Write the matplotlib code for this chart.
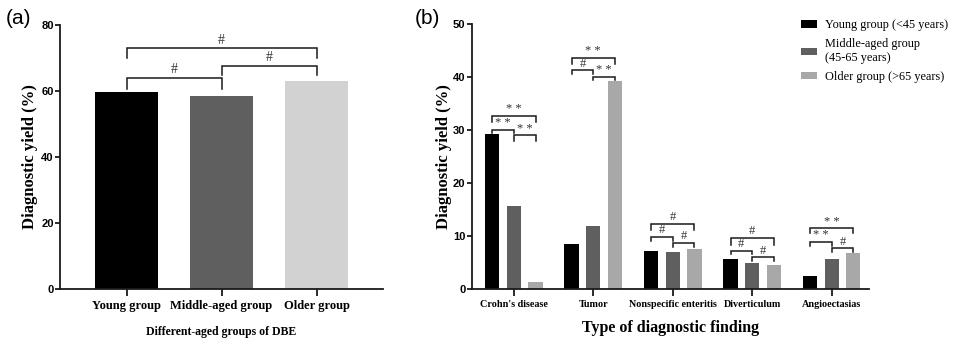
import matplotlib.pyplot as plt
from matplotlib.patches import Patch
import numpy as np

# Panel (a) data
groups_a = ["Young group", "Middle-aged group", "Older group"]
yield_a = [59.8, 58.4, 63.1]
colors_a = ["#000000", "#5f5f5f", "#d2d2d2"]
# (bar i, bar j, bracket top, tick drop, label)
brackets_a = [(0, 1, 64.0, 3.3, "#"), (1, 2, 67.7, 2.7, "#"), (0, 2, 73.0, 3.0, "#")]

# Panel (b) data
findings = ["Crohn's disease", "Tumor", "Nonspecific enteritis", "Diverticulum", "Angioectasias"]
young_b = [29.2, 8.4, 7.1, 5.55, 2.3]
middle_b = [15.6, 11.85, 6.9, 4.9, 5.6]
older_b = [1.2, 39.2, 7.5, 4.5, 6.7]
legend_b = ["Young group (<45 years)", "Middle-aged group\n(45-65 years)", "Older group (>65 years)"]
colors_b = ["#000000", "#5f5f5f", "#a8a8a8"]
brackets_b = [
    [(0, 1, 30.0, 0.6, "**"), (1, 2, 29.0, 1.0, "**"), (0, 2, 32.7, 1.2, "**")],
    [(0, 1, 41.3, 0.7, "#"), (1, 2, 40.1, 0.6, "**"), (0, 2, 43.7, 1.2, "**")],
    [(0, 1, 9.8, 0.8, "#"), (1, 2, 8.6, 0.8, "#"), (0, 2, 12.2, 1.1, "#")],
    [(0, 1, 7.2, 0.6, "#"), (1, 2, 5.9, 0.6, "#"), (0, 2, 9.6, 1.3, "#")],
    [(0, 1, 8.9, 0.8, "**"), (1, 2, 7.6, 0.7, "#"), (0, 2, 11.4, 0.9, "**")],
]

serif = "Liberation Serif"
sans = "Liberation Sans"
ink = "#1a1a1a"


def bracket(ax, x1, x2, top, drop, label, fs, pad):
    ax.plot([x1, x1, x2, x2], [top - drop, top, top, top - drop],
            color=ink, lw=1.1, solid_joinstyle="miter", clip_on=False)
    ax.text((x1 + x2) / 2, top + pad, label.replace("**", "* *"), ha="center", va="bottom",
            fontsize=fs, family=serif, color="#333333")


def style_axes(ax):
    for side in ["top", "right"]:
        ax.spines[side].set_visible(False)
    for side in ["left", "bottom"]:
        ax.spines[side].set_linewidth(1.3)
        ax.spines[side].set_color(ink)
    ax.tick_params(axis="both", width=1.3, length=3.5, color=ink)
    ax.tick_params(axis="y", labelsize=8, pad=1)
    for lab in ax.get_yticklabels():
        lab.set_family(sans)
        lab.set_fontweight("bold")


fig = plt.figure(figsize=(9.6, 3.38), dpi=100)

# ---- panel (a)
ax1 = fig.add_axes([0.0625, 0.146, 0.3365, 0.779])
xa = np.arange(len(groups_a))
ax1.bar(xa, yield_a, width=0.66, color=colors_a)
ax1.set_xlim(-0.7, 2.7)
ax1.set_ylim(0, 80)
ax1.set_yticks([0, 20, 40, 60, 80])
ax1.set_xticks(xa)
ax1.set_xticklabels(groups_a, family=serif, fontweight="bold", fontsize=9)
style_axes(ax1)
ax1.tick_params(axis="x", length=5, pad=3)
ax1.set_ylabel("Diagnostic yield (%)", family=serif, fontweight="bold", fontsize=12, labelpad=2)
ax1.set_xlabel("Different-aged groups of DBE", family=serif, fontweight="bold", fontsize=8.5, labelpad=10)
for i, j, top, drop, lab in brackets_a:
    bracket(ax1, xa[i], xa[j], top, drop, lab, 10, 0.5)

# ---- panel (b)
ax2 = fig.add_axes([0.4914, 0.146, 0.4138, 0.782])
xb = np.arange(len(findings))
step = 0.273
series_b = [young_b, middle_b, older_b]
for k, vals in enumerate(series_b):
    ax2.bar(xb + (k - 1) * step, vals, width=0.18, color=colors_b[k], label=legend_b[k])
ax2.set_xlim(-0.53, 4.47)
ax2.set_ylim(0, 50)
ax2.set_yticks([0, 10, 20, 30, 40, 50])
ax2.set_xticks(xb)
ax2.set_xticklabels(findings, family=serif, fontweight="bold", fontsize=7.3)
style_axes(ax2)
ax2.tick_params(axis="x", length=5, pad=3)
ax2.set_ylabel("Diagnostic yield (%)", family=serif, fontweight="bold", fontsize=12, labelpad=1)
ax2.set_xlabel("Type of diagnostic finding", family=serif, fontweight="bold", fontsize=11.5, labelpad=8)
for g, blist in enumerate(brackets_b):
    for i, j, top, drop, lab in blist:
        bracket(ax2, xb[g] + (i - 1) * step, xb[g] + (j - 1) * step, top, drop, lab, 9, 0.15)

handles = [Patch(facecolor=c, edgecolor="none") for c in colors_b]
fig.legend(handles, legend_b, loc="upper left", bbox_to_anchor=(0.823, 0.975),
           frameon=False, prop={"family": serif, "size": 8.8},
           handlelength=1.3, handleheight=0.55, handletextpad=0.65, labelspacing=0.55)

fig.text(0.006, 0.946, "(a)", family=sans, fontsize=15, va="center")
fig.text(0.432, 0.946, "(b)", family=sans, fontsize=15, va="center")

fig.savefig("out.png", dpi=100, facecolor="white")
